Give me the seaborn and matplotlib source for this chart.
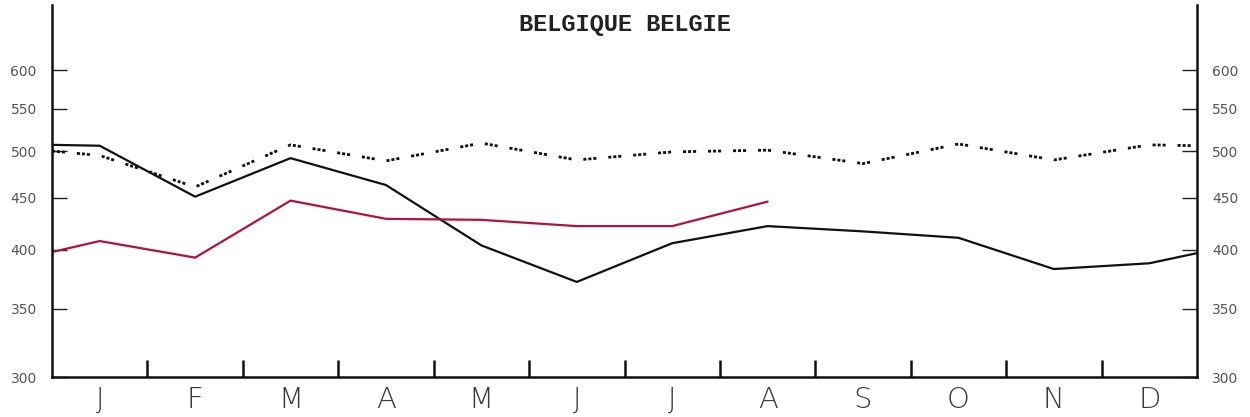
import numpy as np
import pandas as pd
import matplotlib
matplotlib.use("Agg")
import matplotlib.pyplot as plt
import matplotlib.ticker as mticker
import seaborn as sns

# month letters, values are read at mid-month; first/last points sit on the year edges
months = ['J', 'F', 'M', 'A', 'M', 'J', 'J', 'A', 'S', 'O', 'N', 'D']
x_full = [0] + [i + 0.5 for i in range(12)] + [12]

black_vals = [507, 506, 451, 492, 463, 404, 372, 406, 422, 417, 411, 383, 388, 397]
dotted_vals = [500, 495, 461, 507, 489, 509, 490, 499, 501, 486, 508, 490, 507, 506]
red_vals = [398, 408, 393, 447, 429, 428, 422, 422, 446]
red_x = x_full[:len(red_vals)]

y_ticks = [300, 350, 400, 450, 500, 550, 600]

sns.set_style("white")
plt.rcParams['font.family'] = ['DejaVu Sans']

fig = plt.figure(figsize=(12.5, 4.17), dpi=100)
ax = fig.add_axes([0.0416, 0.0955, 0.916, 0.892])

dotted_df = pd.DataFrame({'x': x_full, 'v': dotted_vals})
black_df = pd.DataFrame({'x': x_full, 'v': black_vals})
red_df = pd.DataFrame({'x': red_x, 'v': red_vals})

sns.lineplot(data=dotted_df, x='x', y='v', color='#111111', lw=2.0,
             linestyle=(0, (1.1, 0.7, 1.1, 0.7, 1.1, 4.3)), ax=ax)
sns.lineplot(data=black_df, x='x', y='v', color='#111111', lw=1.6, ax=ax)
sns.lineplot(data=red_df, x='x', y='v', color='#b3123e', lw=1.6, ax=ax)

ax.set_yscale('log')
ax.set_ylim(300, 695)
ax.set_xlim(0, 12)
ax.yaxis.set_major_locator(mticker.FixedLocator(y_ticks))
ax.yaxis.set_major_formatter(mticker.FixedFormatter([str(t) for t in y_ticks]))
ax.yaxis.set_minor_locator(mticker.NullLocator())
ax.tick_params(axis='y', which='major', left=True, right=True, labelleft=True,
               labelright=True, direction='in', length=11, width=1.0,
               pad=11, labelsize=10, labelcolor='#555555', color='#222222')

ax.xaxis.set_major_locator(mticker.FixedLocator(range(1, 12)))
ax.xaxis.set_major_formatter(mticker.NullFormatter())
ax.xaxis.set_minor_locator(mticker.FixedLocator([i + 0.5 for i in range(12)]))
ax.xaxis.set_minor_formatter(mticker.FixedFormatter(months))
ax.tick_params(axis='x', which='major', bottom=True, direction='in', length=12,
               width=1.8, color='#111111')
ax.tick_params(axis='x', which='minor', bottom=True, length=0, pad=6,
               labelsize=21, labelcolor='#3a3a3a')
for lab in ax.get_xticklabels(minor=True):
    lab.set_fontweight('light')

ax.set_xlabel('')
ax.set_ylabel('')
ax.grid(False)
for side in ['left', 'right', 'bottom']:
    ax.spines[side].set_visible(True)
    ax.spines[side].set_color('#111111')
    ax.spines[side].set_linewidth(1.8)
ax.spines['top'].set_visible(False)

fig.text(0.5, 0.942, 'BELGIQUE BELGIE', ha='center', va='center',
         family='Liberation Mono', fontsize=17, fontweight='bold', color='#222222')

fig.savefig('out.png', dpi=100, facecolor='white')
